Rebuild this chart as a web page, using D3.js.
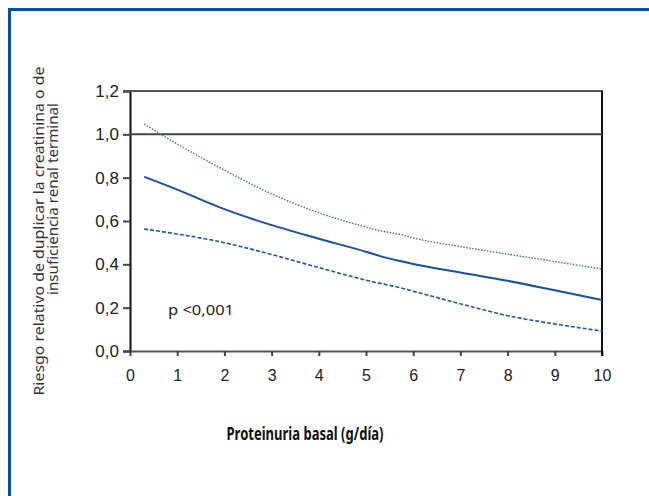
<!DOCTYPE html>
<html lang="es">
<head>
<meta charset="utf-8" />
<title>Riesgo relativo vs proteinuria basal</title>
<script src="https://d3js.org/d3.v7.min.js"></script>
<style>
    body { margin: 0; background: #fff; }
    svg { display: block; font-family: "Noto Sans", "Open Sans", sans-serif; }
    .tick text { fill: #222; }
</style>
</head>
<body>
<svg width="649" height="496"></svg>
<script>
    // values
    const xTicks = [0, 1, 2, 3, 4, 5, 6, 7, 8, 9, 10];
    const yTicks = [0, 0.2, 0.4, 0.6, 0.8, 1.0, 1.2];

    const xs = [0.3, 1, 2, 2.87, 4, 5, 5.3, 5.73, 6, 7, 8, 9, 10];
    const rrMean = [0.804, 0.745, 0.655, 0.59, 0.518, 0.458, 0.438, 0.415, 0.402, 0.362, 0.324, 0.28, 0.235];
    const rrUpper = [1.048, 0.955, 0.835, 0.738, 0.638, 0.572, 0.555, 0.538, 0.522, 0.482, 0.447, 0.413, 0.378];
    const rrLower = [0.563, 0.54, 0.50, 0.453, 0.385, 0.327, 0.312, 0.292, 0.276, 0.218, 0.163, 0.125, 0.092];

    const svg = d3.select("svg");
    const width = +svg.attr("width");
    const height = +svg.attr("height");
    const margin = { top: 91, right: 47, bottom: 145, left: 130 };

    // outer blue frame (left and top only)
    svg.append("path")
        .attr("d", `M9.5,${height} V9.5 H${width}`)
        .attr("fill", "none")
        .attr("stroke", "#0e4fa6")
        .attr("stroke-width", 3);

    const x = d3.scaleLinear()
        .domain([0, 10])
        .range([margin.left, width - margin.right]);

    const y = d3.scaleLinear()
        .domain([0, 1.2])
        .range([height - margin.bottom, margin.top]);

    const fmt = d => d3.format(".1f")(d).replace(".", ",");

    // y axis
    const yAxis = svg.append("g")
        .attr("transform", `translate(${margin.left},0)`)
        .call(d3.axisLeft(y).tickValues(yTicks).tickFormat(fmt).tickSize(7).tickPadding(4));
    yAxis.select(".domain").attr("stroke", "#111").attr("stroke-width", 2);
    yAxis.selectAll(".tick line").attr("stroke", "#444").attr("stroke-width", 2);
    yAxis.selectAll("text").attr("font-size", 17);

    // x axis
    const xAxis = svg.append("g")
        .attr("transform", `translate(0,${height - margin.bottom})`)
        .call(d3.axisBottom(x).tickValues(xTicks).tickSize(5).tickSizeOuter(0).tickPadding(14));
    xAxis.select(".domain").attr("stroke", "#555").attr("stroke-width", 2);
    xAxis.selectAll(".tick line").attr("stroke", "#444").attr("stroke-width", 2);
    xAxis.selectAll("text").attr("font-size", 16);

    // top and right frame of the plot
    svg.append("line")
        .attr("x1", margin.left - 7).attr("x2", x(10) + 1)
        .attr("y1", y(1.2)).attr("y2", y(1.2))
        .attr("stroke", "#555").attr("stroke-width", 2);
    svg.append("line")
        .attr("x1", x(10)).attr("x2", x(10))
        .attr("y1", y(1.2)).attr("y2", y(0) + 5)
        .attr("stroke", "#111").attr("stroke-width", 2);

    // reference line at RR = 1
    svg.append("line")
        .attr("x1", margin.left).attr("x2", x(10))
        .attr("y1", y(1)).attr("y2", y(1))
        .attr("stroke", "#444").attr("stroke-width", 2);

    const line = d3.line()
        .x((d, i) => x(xs[i]))
        .y(d => y(d))
        .curve(d3.curveMonotoneX);

    svg.append("path")
        .datum(rrUpper)
        .attr("d", line)
        .attr("fill", "none")
        .attr("stroke", "#3570c0")
        .attr("stroke-width", 1.4)
        .attr("stroke-dasharray", "1.5,1.5");

    svg.append("path")
        .datum(rrMean)
        .attr("d", line)
        .attr("fill", "none")
        .attr("stroke", "#1650a8")
        .attr("stroke-width", 2);

    svg.append("path")
        .datum(rrLower)
        .attr("d", line)
        .attr("fill", "none")
        .attr("stroke", "#1a55ad")
        .attr("stroke-width", 1.6)
        .attr("stroke-dasharray", "4,2");

    // annotation
    svg.append("text")
        .attr("x", 168)
        .attr("y", 315)
        .attr("font-size", 15)
        .attr("fill", "#222")
        .attr("textLength", 66)
        .attr("lengthAdjust", "spacingAndGlyphs")
        .text("p <0,001");

    // axis titles
    svg.append("text")
        .attr("x", 305)
        .attr("y", 440)
        .attr("text-anchor", "middle")
        .attr("font-size", 17)
        .attr("font-weight", "bold")
        .attr("fill", "#111")
        .attr("textLength", 157)
        .attr("lengthAdjust", "spacingAndGlyphs")
        .text("Proteinuria basal (g/día)");

    // the two title lines are not centred on each other in the original
    svg.append("text")
        .attr("transform", "translate(44,231) rotate(-90)")
        .attr("text-anchor", "middle")
        .attr("font-size", 14)
        .attr("fill", "#333")
        .attr("textLength", 329)
        .attr("lengthAdjust", "spacingAndGlyphs")
        .text("Riesgo relativo de duplicar la creatinina o de");
    svg.append("text")
        .attr("transform", "translate(58,199) rotate(-90)")
        .attr("text-anchor", "middle")
        .attr("font-size", 14)
        .attr("fill", "#333")
        .attr("textLength", 192)
        .attr("lengthAdjust", "spacingAndGlyphs")
        .text("insuficiencia renal terminal");
</script>
</body>
</html>
